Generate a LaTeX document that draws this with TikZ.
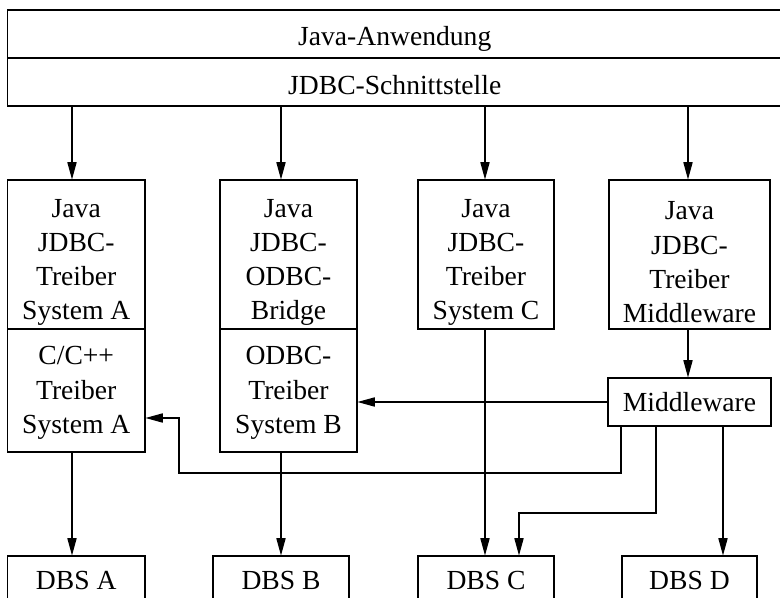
\documentclass[tikz,border=0pt]{standalone}
\usepackage{fontspec}
\setmainfont{Liberation Serif}
\usetikzlibrary{arrows.meta,positioning,calc}

\newcommand{\px}{0.4348pt}
\newcommand{\oben}[1]{\rule{0pt}{#1}}

\begin{document}
\begin{tikzpicture}[x=\px, y=-\px, line width=0.45pt,
    every node/.style={font=\fontsize{12}{14.8}\selectfont},
    box/.style={draw, align=center, inner sep=0pt},
    pfeil/.style={-{Triangle[length=7.5pt,width=4pt]}}]
  \useasboundingbox (0,0) rectangle (780,598);

  % Anwendung und Schnittstelle
  \node[box, minimum width=774.5*\px, minimum height=48*\px] (app) at (394.75,34) {\oben{12.5pt}Java-Anwendung};
  \node[box, minimum width=774.5*\px, minimum height=48*\px] (jdbc) at (394.75,82) {\oben{11pt}JDBC-Schnittstelle};

  % Treiber
  \node[box, minimum width=137.5*\px, minimum height=149*\px] (jA) at (76.25,254.5) {\oben{14.5pt}Java\\JDBC-\\Treiber\\System A};
  \node[box, minimum width=137.5*\px, minimum height=123*\px] (cA) at (76.25,390.5) {\oben{10pt}C/C++\\Treiber\\System A};
  \node[box, minimum width=137*\px, minimum height=149*\px] (jB) at (288.5,254.5) {\oben{14.5pt}Java\\JDBC-\\ODBC-\\Bridge};
  \node[box, minimum width=137*\px, minimum height=123*\px] (oB) at (288.5,390.5) {\oben{10pt}ODBC-\\Treiber\\System B};
  \node[box, minimum width=136*\px, minimum height=149*\px] (jC) at (486,254.5) {\oben{14.5pt}Java\\JDBC-\\Treiber\\System C};
  \node[box, minimum width=161*\px, minimum height=149*\px] (jD) at (689.5,254.5) {\oben{14.5pt}Java\\JDBC-\\Treiber\\Middleware};
  \node[box, minimum width=163*\px, minimum height=48*\px] (mw) at (689.5,402) {Middleware};

  % Datenbanksysteme
  \node[box, minimum width=137.5*\px, minimum height=48*\px] (dA) at (76.25,580) {DBS A};
  \node[box, minimum width=136*\px, minimum height=48*\px] (dB) at (281,580) {DBS B};
  \node[box, minimum width=136*\px, minimum height=48*\px] (dC) at (486,580) {DBS C};
  \node[box, minimum width=135*\px, minimum height=48*\px] (dD) at (689.5,580) {DBS D};

  % Spalten und Knickpunkte
  \coordinate (xA) at (72,0);
  \coordinate (xB) at (281,0);
  \coordinate (xC) at (485,0);
  \coordinate (xD) at (688,0);
  \coordinate (m1) at (621,473);
  \coordinate (k1) at (179,418);
  \coordinate (m2) at (656,513);
  \coordinate (k2) at (519,0);
  \coordinate (m3) at (723,0);

  \foreach \c/\n in {xA/jA, xB/jB, xC/jC, xD/jD}
    \draw[pfeil] (jdbc.south -| \c) -- (\n.north -| \c);

  \draw[pfeil] (cA.south -| xA) -- (dA.north -| xA);
  \draw[pfeil] (oB.south -| xB) -- (dB.north -| xB);
  \draw[pfeil] (jC.south -| xC) -- (dC.north -| xC);
  \draw[pfeil] (jD.south -| xD) -- (mw.north -| xD);
  \draw[pfeil] (mw.west) -- (mw.west -| oB.east);
  \draw[pfeil] (mw.south -| m1) |- (k1 |- m1) -- (k1) -- (k1 -| cA.east);
  \draw[pfeil] (mw.south -| m2) |- (k2 |- m2) -- (k2 |- dC.north);
  \draw[pfeil] (mw.south -| m3) -- (dD.north -| m3);
\end{tikzpicture}
\end{document}
